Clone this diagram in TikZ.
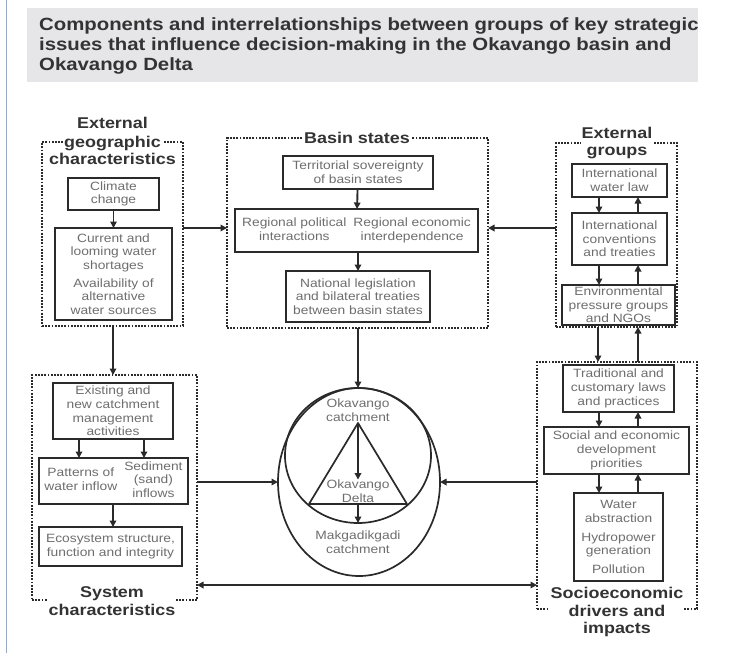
\documentclass[tikz,border=0pt]{standalone}
\usepackage{fontspec}
\setmainfont{Liberation Sans}[FakeStretch=1.15]
\usetikzlibrary{arrows.meta,shapes.geometric}

\definecolor{ink}{HTML}{2A2A2A}
\definecolor{boxtext}{HTML}{6E6E6E}
\definecolor{labeltext}{HTML}{333333}
\definecolor{band}{HTML}{E6E6E9}
\definecolor{sidebar}{HTML}{86AEDC}

\newcommand\boxfont{\fontsize{12}{13.7}\selectfont}
\newcommand\grpfont{\fontsize{15.6}{17.5}\selectfont\bfseries}
\newcommand\headfont{\fontsize{17.7}{20}\selectfont\bfseries}

\begin{document}
\begin{tikzpicture}[x=1pt,y=-1pt,
  grp/.style={draw=ink, line width=2.6pt, dash pattern=on 1.8pt off 1.4pt,
    inner sep=0pt, outer sep=0pt},
  grplabel/.style={font=\grpfont, text=labeltext, align=center, inner sep=1pt},
  box/.style={draw=ink, line width=1.9pt, fill=white, text=boxtext,
    font=\boxfont, align=center, inner sep=0pt, outer sep=0pt},
  plain/.style={text=boxtext, font=\boxfont, align=center, inner sep=0pt},
  arr/.style={draw=ink, line width=1.9pt, -{Triangle[length=6.5pt,width=6.5pt]}},
  darr/.style={draw=ink, line width=1.9pt,
    {Triangle[length=6.5pt,width=6.5pt]}-{Triangle[length=6.5pt,width=6.5pt]}}]

\useasboundingbox (0,0) rectangle (730,653);

% side rule and heading band
\draw[sidebar, line width=1.5pt] (6.5,0) -- (6.5,653);
\fill[band] (27,8) rectangle (698,82);
\begin{scope}
  \clip (27,8) rectangle (698,82);
  \node[anchor=north west, align=left, font=\headfont, text=labeltext,
    inner sep=0pt] (title) at (39,17)
    {Components and interrelationships between groups of key strategic\\
     issues that influence decision-making in the Okavango basin and\\
     Okavango Delta};
\end{scope}

% group frames
\node[grp, minimum width=141pt, minimum height=184pt] (extgeo) at (112.5,234) {};
\node[grp, minimum width=261pt, minimum height=190pt] (basin) at (357.5,233) {};
\node[grp, minimum width=121pt, minimum height=184pt] (extgrp) at (616.5,235) {};
\node[grp, minimum width=165pt, minimum height=225pt] (system) at (114.5,487.5) {};
\node[grp, minimum width=160pt, minimum height=247pt] (socio) at (617,485.5) {};

% group titles
\node[grplabel, anchor=base] (extgeoA) at (112.5,128) {External};
\node[grplabel, anchor=base, fill=white] (extgeoB) at (112.5,147) {geographic};
\node[grplabel, anchor=base] (extgeoC) at (112.5,164) {characteristics};
\node[grplabel, anchor=base, fill=white] (basinL) at (357,143) {Basin states};
\node[grplabel, fill=white] (extgrpL) at (617,143) {External\\groups};
\node[grplabel, fill=white] (systemL) at (112,601) {System\\characteristics};
\node[grplabel, fill=white] (socioL) at (617,612) {Socioeconomic\\drivers and\\impacts};

% external geographic characteristics
\node[box, minimum width=91pt, minimum height=32pt] (climate) at (113.5,194)
  {Climate\\change};
\node[box, minimum width=117pt, minimum height=92pt] (current) at (113.5,274)
  {Current and\\looming water\\shortages\\[4pt]Availability of\\alternative\\water sources};

% basin states
\node[box, minimum width=150pt, minimum height=33pt] (territorial) at (358,172.5)
  {Territorial sovereignty\\of basin states};
\node[box, minimum width=243pt, minimum height=43pt] (regional) at (356.5,230.5)
  {\begin{tabular}{@{}c@{\hspace{7pt}}c@{}}
   Regional political & Regional economic\\
   interactions & interdependence
   \end{tabular}};
\node[box, minimum width=144pt, minimum height=51pt] (national) at (358,296.5)
  {National legislation\\and bilateral treaties\\between basin states};

% external groups
\node[box, minimum width=95pt, minimum height=33pt] (intlaw) at (619.5,180.5)
  {International\\water law};
\node[box, minimum width=95pt, minimum height=52pt] (intconv) at (619.5,239)
  {International\\conventions\\and treaties};
\node[box, minimum width=113pt, minimum height=40pt] (envpress) at (618.5,305)
  {Environmental\\pressure groups\\and NGOs};

% system characteristics
\node[box, minimum width=120pt, minimum height=56pt] (existing) at (113,411)
  {Existing and\\new catchment\\management\\activities};
\node[box, minimum width=149pt, minimum height=46pt] (patterns) at (113.5,481)
  {\begin{tabular}{@{}c@{\hspace{7pt}}c@{}}
   \begin{tabular}{@{}c@{}}Patterns of\\water inflow\end{tabular} &
   \begin{tabular}{@{}c@{}}Sediment\\(sand)\\inflows\end{tabular}
   \end{tabular}};
\node[box, minimum width=143pt, minimum height=39pt] (ecosystem) at (110.5,546.5)
  {Ecosystem structure,\\function and integrity};

% socioeconomic drivers and impacts
\node[box, minimum width=111pt, minimum height=47pt] (traditional) at (618.5,388.5)
  {Traditional and\\customary laws\\and practices};
\node[box, minimum width=145pt, minimum height=47pt] (social) at (616.5,450.5)
  {Social and economic\\development\\priorities};
\node[box, minimum width=89pt, minimum height=88pt] (water) at (618.5,537)
  {Water\\abstraction\\[5pt]Hydropower\\generation\\[5pt]Pollution};

% catchments
\node[draw=ink, line width=1.7pt, ellipse, minimum width=162pt, minimum height=188pt,
  inner sep=0pt, outer sep=0pt] (outer) at (359,482) {};
\node[draw=ink, line width=1.7pt, ellipse, minimum width=146pt, minimum height=135pt,
  inner sep=0pt, outer sep=0pt] (inner) at (358,455.5) {};
\coordinate (apex) at (358,423);
\coordinate (baseL) at (309,504);
\coordinate (baseR) at (407,504);
\coordinate (baseM) at (358,504);
\draw[ink, line width=1.7pt, line join=round] (apex) -- (baseL) -- (baseR) -- cycle;
\node[plain] (okc) at (358,410) {Okavango\\catchment};
\node[plain] (okd) at (358,491) {Okavango\\Delta};
\node[plain] (mak) at (358,542) {Makgadikgadi\\catchment};
\draw[arr] (apex) -- (okd.north);
\draw[arr] (baseM) -- (inner.south);

% links inside the groups
\draw[arr] (climate) -- (current);
\draw[arr] (territorial) -- (regional);
\draw[arr] (regional.south -| territorial.south) -- (national);
\draw[arr] (intlaw.south -| 599,0) -- (intconv.north -| 599,0);
\draw[arr] (intconv.north -| 638,0) -- (intlaw.south -| 638,0);
\draw[arr] (intconv.south -| 599,0) -- (envpress.north -| 599,0);
\draw[arr] (envpress.north -| 638,0) -- (intconv.south -| 638,0);
\draw[arr] (traditional.south -| 599,0) -- (social.north -| 599,0);
\draw[arr] (social.north -| 638,0) -- (traditional.south -| 638,0);
\draw[arr] (social.south -| 599,0) -- (water.north -| 599,0);
\draw[arr] (water.north -| 638,0) -- (social.south -| 638,0);
\draw[arr] (existing.south -| 79,0) -- (patterns.north -| 79,0);
\draw[arr] (existing.south -| 144,0) -- (patterns.north -| 144,0);
\draw[arr] (patterns.south -| 113,0) -- (ecosystem.north -| 113,0);

% links between the groups
\draw[arr] (extgeo.east |- 0,228) -- (basin.west |- 0,228);
\draw[arr] (extgrp.west |- 0,228) -- (basin.east |- 0,228);
\draw[arr] (extgeo.south -| 113,0) -- (system.north -| 113,0);
\draw[arr] (extgrp.south -| 598,0) -- (socio.north -| 598,0);
\draw[arr] (socio.north -| 638,0) -- (extgrp.south -| 638,0);
\draw[arr] (basin.south -| 358,0) -- (outer.north -| 358,0);
\draw[arr] (system.east |- 0,482) -- (outer.west);
\draw[arr] (socio.west |- 0,482) -- (outer.east);
\draw[darr] (system.east |- 0,585) -- (socio.west |- 0,585);

\end{tikzpicture}
\end{document}
